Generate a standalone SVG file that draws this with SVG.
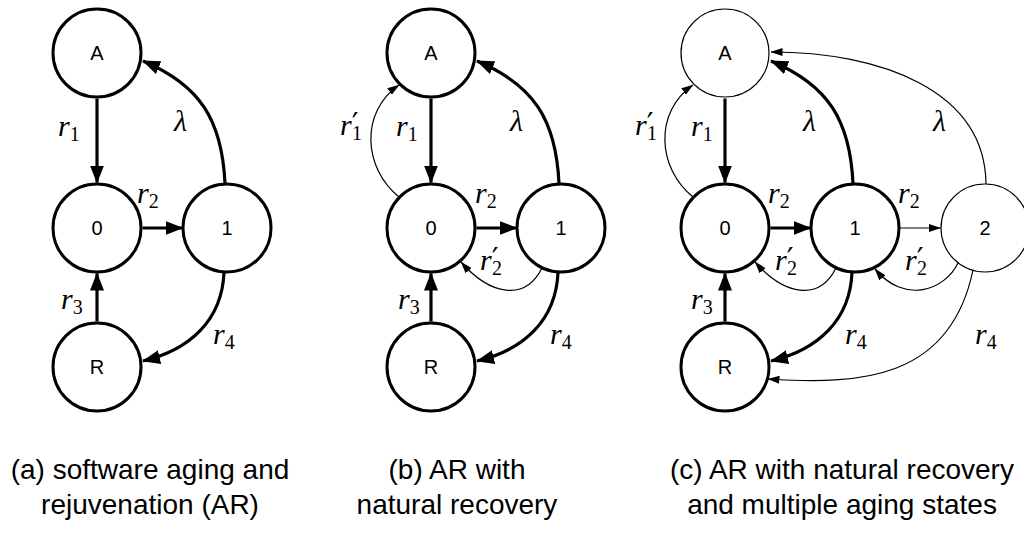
<svg xmlns="http://www.w3.org/2000/svg" width="1024" height="540" viewBox="0 0 1024 540">
<style>
.nk{fill:#fff;stroke:#000;stroke-width:3}
.nt{fill:#fff;stroke:#000;stroke-width:1.2}
.nl{font-family:"Liberation Sans",Arial,sans-serif;font-size:20px;text-anchor:middle;fill:#000}
.ek{fill:none;stroke:#000;stroke-width:3.2;marker-end:url(#ahk)}
.et{fill:none;stroke:#000;stroke-width:1.2;marker-end:url(#aht)}
.m{font-family:"Liberation Serif","DejaVu Serif",serif;font-style:italic;font-size:30px;fill:#000}
.s{font-style:normal;font-size:20px}
.p{font-family:"DejaVu Sans","Liberation Sans",sans-serif;font-style:normal;font-size:30px}
.cap{font-family:"Liberation Sans",Arial,sans-serif;font-size:28px;text-anchor:middle;fill:#000}
</style>
<defs>
<marker id="ahk" markerUnits="userSpaceOnUse" viewBox="0 0 18 14" markerWidth="18" markerHeight="14" refX="17" refY="7" orient="auto">
<path d="M0,0 L18,7 L0,14 z" fill="#000"/>
</marker>
<marker id="aht" markerUnits="userSpaceOnUse" viewBox="0 0 12 8" markerWidth="12" markerHeight="8" refX="11.5" refY="4" orient="auto">
<path d="M0,0 L12,4 L0,8 z" fill="#000"/>
</marker>
</defs>

<g id="connectors">
<!-- panel a -->
<path class="ek" d="M97,98.5 L97,182.5"/>
<path class="ek" d="M142.5,228 L182.5,228"/>
<path class="ek" d="M97,321.5 L97,273.5"/>
<path class="ek" d="M225,183.5 C222,120 200,85 143,61"/>
<path class="ek" d="M224,272.5 C222,320 190,350 143,361"/>
<!-- panel b -->
<path class="ek" d="M431,98.5 L431,182.5"/>
<path class="ek" d="M476.5,228 L516.5,228"/>
<path class="ek" d="M431,321.5 L431,273.5"/>
<path class="ek" d="M559,183.5 C556,120 534,85 477,61"/>
<path class="ek" d="M558,272.5 C556,320 524,350 477,361"/>
<path class="et" d="M399,197 C363,168 360,112 399,85"/>
<path class="et" d="M542,268 C525,302 490,295 461,262"/>
<!-- panel c -->
<path class="ek" d="M725,98.5 L725,182.5"/>
<path class="ek" d="M770.5,228 L810.5,228"/>
<path class="ek" d="M725,321.5 L725,273.5"/>
<path class="ek" d="M853,183.5 C850,120 828,85 771,61"/>
<path class="ek" d="M852,272.5 C850,320 818,350 771,361"/>
<path class="et" d="M693,197 C657,168 654,112 693,85"/>
<path class="et" d="M836,268 C819,302 784,295 755,262"/>
<path class="et" d="M900,228 L940.5,228"/>
<path class="et" d="M958,263 C945,290 905,305 875,269"/>
<path class="et" d="M986,184 C985,90 880,52 771,52"/>
<path class="et" d="M973,270 C950,380 860,385 768,379"/>
</g>

<g id="labels">
<!-- panel a -->
<text class="m" x="58" y="136">r<tspan class="s" dy="5">1</tspan></text>
<text class="m" x="174" y="131">λ</text>
<text class="m" x="137" y="203">r<tspan class="s" dy="5">2</tspan></text>
<text class="m" x="61" y="309">r<tspan class="s" dy="5">3</tspan></text>
<text class="m" x="213" y="344">r<tspan class="s" dy="5">4</tspan></text>
<!-- panel b -->
<text class="m" x="340" y="135">r<tspan class="p" dy="-1">′</tspan><tspan class="s" x="352" dy="6">1</tspan></text>
<text class="m" x="396" y="136">r<tspan class="s" dy="5">1</tspan></text>
<text class="m" x="510" y="131">λ</text>
<text class="m" x="475" y="203">r<tspan class="s" dy="5">2</tspan></text>
<text class="m" x="480" y="270">r<tspan class="p" dy="-1">′</tspan><tspan class="s" x="492" dy="6">2</tspan></text>
<text class="m" x="398" y="309">r<tspan class="s" dy="5">3</tspan></text>
<text class="m" x="550" y="344">r<tspan class="s" dy="5">4</tspan></text>
<!-- panel c -->
<text class="m" x="635" y="135">r<tspan class="p" dy="-1">′</tspan><tspan class="s" x="647" dy="6">1</tspan></text>
<text class="m" x="691" y="136">r<tspan class="s" dy="5">1</tspan></text>
<text class="m" x="803" y="131">λ</text>
<text class="m" x="933" y="131">λ</text>
<text class="m" x="768" y="203">r<tspan class="s" dy="5">2</tspan></text>
<text class="m" x="898" y="203">r<tspan class="s" dy="5">2</tspan></text>
<text class="m" x="775" y="270">r<tspan class="p" dy="-1">′</tspan><tspan class="s" x="787" dy="6">2</tspan></text>
<text class="m" x="905" y="270">r<tspan class="p" dy="-1">′</tspan><tspan class="s" x="917" dy="6">2</tspan></text>
<text class="m" x="691" y="309">r<tspan class="s" dy="5">3</tspan></text>
<text class="m" x="845" y="344">r<tspan class="s" dy="5">4</tspan></text>
<text class="m" x="975" y="344">r<tspan class="s" dy="5">4</tspan></text>
</g>

<g id="a-A"><circle class="nk" cx="97" cy="53" r="44"/><text class="nl" x="97" y="60">A</text></g>
<g id="a-0"><circle class="nk" cx="97" cy="228" r="44"/><text class="nl" x="97" y="235">0</text></g>
<g id="a-1"><circle class="nk" cx="227" cy="228" r="44"/><text class="nl" x="227" y="235">1</text></g>
<g id="a-R"><circle class="nk" cx="97" cy="367" r="44"/><text class="nl" x="97" y="374">R</text></g>

<g id="b-A"><circle class="nk" cx="431" cy="53" r="44"/><text class="nl" x="431" y="60">A</text></g>
<g id="b-0"><circle class="nk" cx="431" cy="228" r="44"/><text class="nl" x="431" y="235">0</text></g>
<g id="b-1"><circle class="nk" cx="561" cy="228" r="44"/><text class="nl" x="561" y="235">1</text></g>
<g id="b-R"><circle class="nk" cx="431" cy="367" r="44"/><text class="nl" x="431" y="374">R</text></g>

<g id="c-A"><circle class="nt" cx="725" cy="53" r="44"/><text class="nl" x="725" y="60">A</text></g>
<g id="c-0"><circle class="nk" cx="725" cy="228" r="44"/><text class="nl" x="725" y="235">0</text></g>
<g id="c-1"><circle class="nk" cx="855" cy="228" r="44"/><text class="nl" x="855" y="235">1</text></g>
<g id="c-2"><circle class="nt" cx="985" cy="228" r="44"/><text class="nl" x="985" y="235">2</text></g>
<g id="c-R"><circle class="nk" cx="725" cy="367" r="44"/><text class="nl" x="725" y="374">R</text></g>

<g id="captions">
<text class="cap" x="150" y="479">(a) software aging and</text>
<text class="cap" x="150" y="514">rejuvenation (AR)</text>
<text class="cap" x="457" y="479">(b) AR with</text>
<text class="cap" x="457" y="514">natural recovery</text>
<text class="cap" x="842" y="479">(c) AR with natural recovery</text>
<text class="cap" x="842" y="514">and multiple aging states</text>
</g>
</svg>
